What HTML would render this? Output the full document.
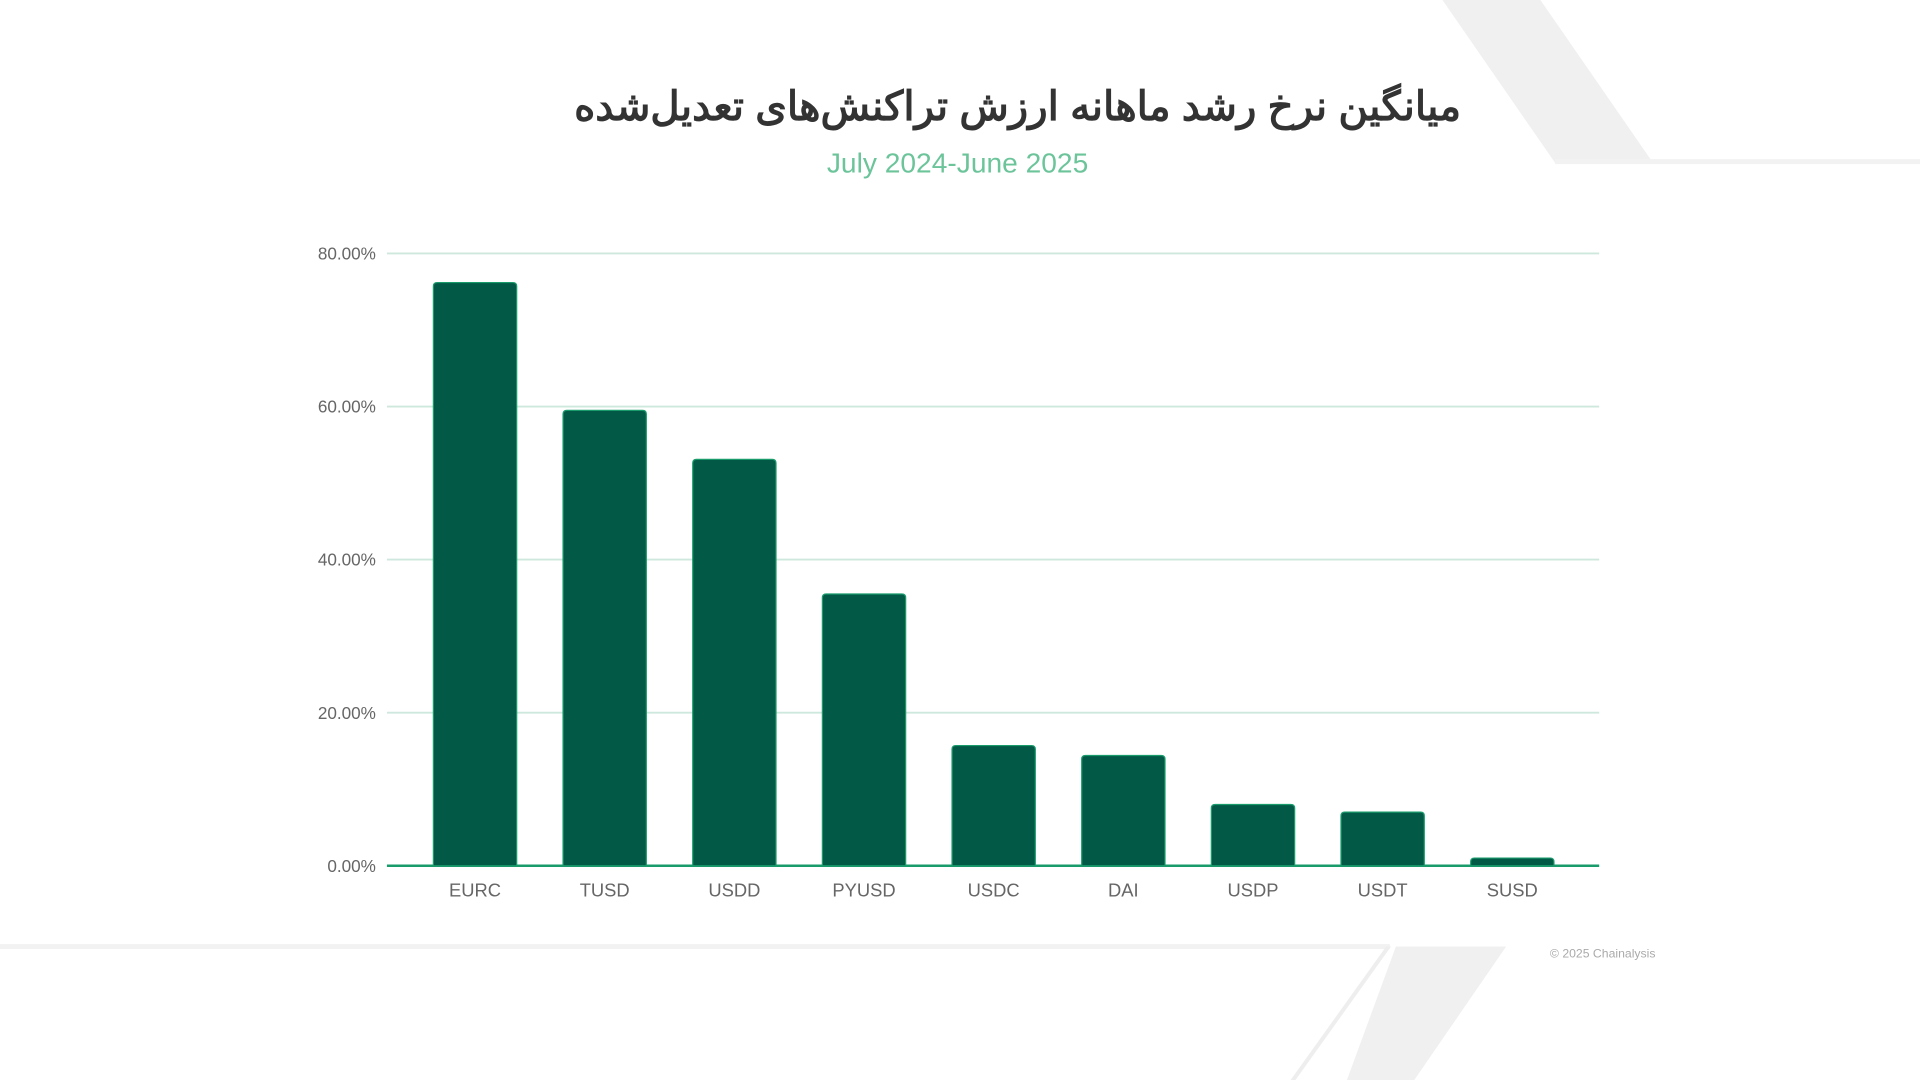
<!DOCTYPE html>
<html><head><meta charset="utf-8"><style>
html,body{margin:0;padding:0;background:#fff;overflow:hidden}
#wrap{width:1568px;height:882px;transform:scale(1.2244898);transform-origin:0 0;position:relative}
svg text{font-family:"Liberation Sans",sans-serif}
</style></head><body>
<div id="wrap">
<svg id="chart" width="1568" height="882">
  <g>
    <polygon points="1178,0 1258,0 1350,133 1270,133" fill="#f0f0f0"/>
    <rect x="1270" y="130" width="298" height="4" fill="#f2f2f2"/>
    <rect x="0" y="771" width="1135" height="4" fill="#f2f2f2"/>
    <polygon points="1132,773 1136,773 1058,882 1054,882" fill="#eeeeee"/>
    <polygon points="1140,773 1230,773 1155,882 1100,882" fill="#f0f0f0"/>
  </g>
  <text x="831" y="98" text-anchor="middle" font-size="33" font-weight="bold" fill="#333" style='font-family:"Liberation Sans","Noto Sans CJK SC",sans-serif' direction="rtl">میانگین نرخ رشد ماهانه ارزش تراکنش‌های تعدیل‌شده</text>
  <text x="782" y="141" text-anchor="middle" font-size="23" fill="#6cc49a">July 2024-June 2025</text>
  <g id="grid"></g><g id="bars"></g><g id="xlabels"></g>
  <text x="1352" y="782" text-anchor="end" font-size="10" fill="#aaa">© 2025 Chainalysis</text>
</svg>
</div>
<script>
const categories=["EURC","TUSD","USDD","PYUSD","USDC","DAI","USDP","USDT","SUSD"];
const values=[76.2,59.5,53.1,35.5,15.7,14.4,8.0,7.0,1.0];
const ticks=[0,20,40,60,80];
const tickLabels=["0.00%","20.00%","40.00%","60.00%","80.00%"];
const NS="http://www.w3.org/2000/svg";
const x0=335,x1=1288,yBase=707,yTop=207,maxV=80;
const band=(x1-x0)/categories.length;
function y(v){return yBase-(v/maxV)*(yBase-yTop);}
function xc(i){return x0+band*(i+0.5);}
function mk(t,a,p){const e=document.createElementNS(NS,t);for(const k in a)e.setAttribute(k,a[k]);p.appendChild(e);return e;}
const g=document.getElementById('grid');
ticks.forEach((t,i)=>{
  const l=mk('line',{x1:316,x2:1306,y1:y(t),y2:y(t),stroke:t===0?'#1a9b6c':'#cfe8de','stroke-width':t===0?2:1.5},g);
  
  
  const tx=mk('text',{x:307,y:y(t)+5,'text-anchor':'end','font-size':14,fill:'#666'},g);
  tx.textContent=tickLabels[i];
  
  
});
const b=document.getElementById('bars'),xl=document.getElementById('xlabels');
categories.forEach((c,i)=>{
  const w=68,top=y(values[i]);
  const r=mk('path',{d:`M${xc(i)-w/2},${yBase} V${top+3} Q${xc(i)-w/2},${top} ${xc(i)-w/2+3},${top} H${xc(i)+w/2-3} Q${xc(i)+w/2},${top} ${xc(i)+w/2},${top+3} V${yBase} Z`,fill:'#025a46',stroke:'#1a9b6c','stroke-width':1},b);
  
  
  const t=mk('text',{x:xc(i),y:732,'text-anchor':'middle','font-size':15,fill:'#666'},xl);
  t.textContent=c;
  
  
});
</script>
</body></html>
